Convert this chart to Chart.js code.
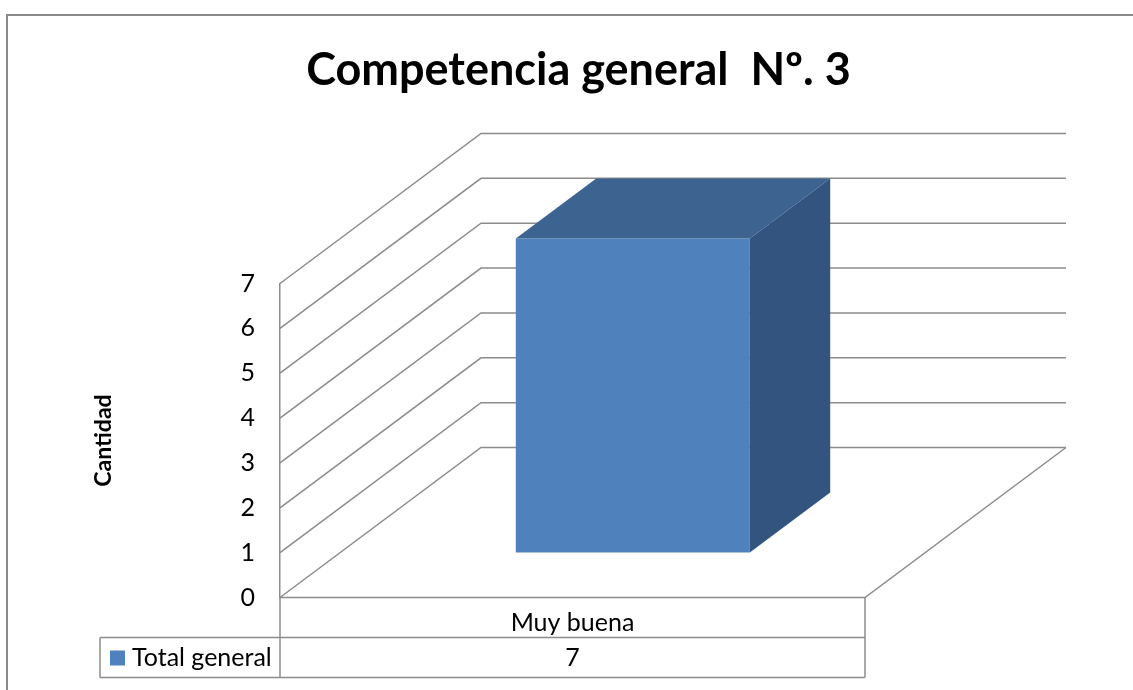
<!DOCTYPE html>
<html lang="es">
<head>
<meta charset="utf-8">
<title>Competencia general Nº. 3</title>
<script src="https://cdn.jsdelivr.net/npm/chart.js@4.4.1/dist/chart.umd.min.js"></script>
<style>
    html, body { margin: 0; padding: 0; background: #fff; }
    #grafico { display: block; }
</style>
</head>
<body>
<canvas id="grafico" width="1133" height="690"></canvas>
<script>
// Datos del gráfico
const titulo     = 'Competencia general  Nº. 3';
const tituloEje  = 'Cantidad';
const categorias = ['Muy buena'];
const serie      = 'Total general';
const valores    = [7];
const ticksY     = [0, 1, 2, 3, 4, 5, 6, 7];

// Estilo
const FUENTE    = 'Lato, "Open Sans", sans-serif';
const GRIS      = '#8c8c8c';
const AZUL      = '#4F81BD';
const AZUL_TAPA = '#3D6490';
const AZUL_LADO = '#32547F';

// Profundidad del piso 3D y posición de la barra dentro de ella
const PROF_X      = 201;
const PROF_Y      = -150;
const BARRA_INI   = 0.3;
const BARRA_FONDO = 0.4;
const FILA_ALTO   = 40;

function linea(ctx, puntos) {
    ctx.beginPath();
    ctx.moveTo(puntos[0][0], puntos[0][1]);
    puntos.slice(1).forEach(p => ctx.lineTo(p[0], p[1]));
    ctx.stroke();
}

function cara(ctx, puntos, color) {
    ctx.beginPath();
    ctx.moveTo(puntos[0][0], puntos[0][1]);
    puntos.slice(1).forEach(p => ctx.lineTo(p[0], p[1]));
    ctx.closePath();
    ctx.fillStyle = color;
    ctx.fill();
}

const efecto3d = {
    id: 'efecto3d',
    beforeDraw(chart) {
        const ctx = chart.ctx;
        ctx.save();
        ctx.fillStyle = '#fff';
        ctx.fillRect(0, 0, chart.width, chart.height);
        ctx.strokeStyle = '#8a8a8a';
        ctx.lineWidth = 2;
        linea(ctx, [[7, chart.height], [7, 15], [chart.width, 15]]);
        ctx.restore();
    },
    beforeDatasetsDraw(chart) {
        const ctx  = chart.ctx;
        const area = chart.chartArea;
        const y    = chart.scales.y;
        ctx.save();
        ctx.strokeStyle = GRIS;
        ctx.lineWidth = 1.5;
        // paredes: lateral (oblicua) y fondo (horizontal)
        ticksY.forEach(v => {
            const py = y.getPixelForValue(v);
            linea(ctx, [[area.left, py], [area.left + PROF_X, py + PROF_Y], [area.right + PROF_X, py + PROF_Y]]);
        });
        // piso
        linea(ctx, [[area.left, area.bottom], [area.right, area.bottom], [area.right + PROF_X, area.bottom + PROF_Y]]);
        ctx.restore();
    },
    beforeDatasetDraw(chart) {
        chart.ctx.save();
        chart.ctx.translate(PROF_X * BARRA_INI, PROF_Y * BARRA_INI);
    },
    afterDatasetDraw(chart, args) {
        const ctx = chart.ctx;
        ctx.restore();
        const bx = PROF_X * BARRA_INI;
        const by = PROF_Y * BARRA_INI;
        const dx = PROF_X * BARRA_FONDO;
        const dy = PROF_Y * BARRA_FONDO;
        args.meta.data.forEach(barra => {
            const p   = barra.getProps(['x', 'y', 'base', 'width'], true);
            const izq = p.x - p.width / 2 + bx;
            const der = p.x + p.width / 2 + bx;
            const arr = p.y + by;
            const aba = p.base + by;
            ctx.save();
            cara(ctx, [[izq, arr], [der, arr], [der + dx, arr + dy], [izq + dx, arr + dy]], AZUL_TAPA);
            cara(ctx, [[der, arr], [der + dx, arr + dy], [der + dx, aba + dy], [der, aba]], AZUL_LADO);
            ctx.restore();
        });
    },
    afterDraw(chart) {
        // tabla de datos bajo el eje
        const ctx  = chart.ctx;
        const area = chart.chartArea;
        const x    = chart.scales.x;
        const y0   = area.bottom;
        const y1   = y0 + FILA_ALTO;
        const y2   = y1 + FILA_ALTO;
        const celdaIzq = area.left - 180;
        ctx.save();
        ctx.strokeStyle = GRIS;
        ctx.lineWidth = 1.5;
        linea(ctx, [[area.left, y0], [area.left, y2]]);
        linea(ctx, [[area.right, y0], [area.right, y2]]);
        linea(ctx, [[celdaIzq, y1], [area.right, y1]]);
        linea(ctx, [[celdaIzq, y2], [area.right, y2]]);
        linea(ctx, [[celdaIzq, y1], [celdaIzq, y2]]);

        ctx.fillStyle = AZUL;
        ctx.fillRect(celdaIzq + 10, y1 + 13, 15, 15);
        ctx.fillStyle = '#000';
        ctx.font = '25px ' + FUENTE;
        ctx.textBaseline = 'middle';
        ctx.textAlign = 'left';
        ctx.fillText(chart.data.datasets[0].label, celdaIzq + 32, y1 + FILA_ALTO / 2);
        ctx.textAlign = 'center';
        chart.data.datasets[0].data.forEach((v, i) => {
            ctx.fillText(String(v), x.getPixelForValue(i), y1 + FILA_ALTO / 2);
        });
        ctx.restore();
    }
};

new Chart(document.getElementById('grafico'), {
    type: 'bar',
    data: {
        labels: categorias,
        datasets: [{
            label: serie,
            data: valores,
            backgroundColor: AZUL,
            borderWidth: 0,
            barPercentage: 0.4,
            categoryPercentage: 1,
            clip: false
        }]
    },
    options: {
        responsive: false,
        animation: false,
        devicePixelRatio: 1,
        layout: { padding: { left: 24, right: 0, top: 0, bottom: 0 } },
        plugins: {
            legend: { display: false },
            tooltip: { enabled: false },
            title: {
                display: true,
                text: titulo,
                color: '#000',
                font: { family: FUENTE, size: 45, weight: 'bold' },
                padding: { top: 43, bottom: 186.5 }
            }
        },
        scales: {
            x: {
                position: 'bottom',
                grid: { display: false, drawTicks: false },
                border: { display: false },
                ticks: { color: '#000', font: { family: FUENTE, size: 25 }, padding: 10 },
                afterFit: s => { s.height = 92.5; }
            },
            y: {
                position: 'left',
                min: ticksY[0],
                max: ticksY[ticksY.length - 1],
                afterBuildTicks: s => { s.ticks = ticksY.map(v => ({ value: v })); },
                grid: { display: false, drawTicks: false },
                border: { display: true, color: GRIS, width: 1.5 },
                ticks: { color: '#000', font: { family: FUENTE, size: 25 }, padding: 25 },
                title: {
                    display: true,
                    text: tituloEje,
                    color: '#000',
                    font: { family: FUENTE, size: 23, weight: 'bold' },
                    padding: { top: 66, bottom: 0 }
                },
                afterFit: s => { s.width = 256; }
            },
            yDer: {
                position: 'right',
                grid: { display: false, drawTicks: false },
                border: { display: false },
                ticks: { display: false },
                afterFit: s => { s.width = 268; }
            }
        }
    },
    plugins: [efecto3d]
});
</script>
</body>
</html>
